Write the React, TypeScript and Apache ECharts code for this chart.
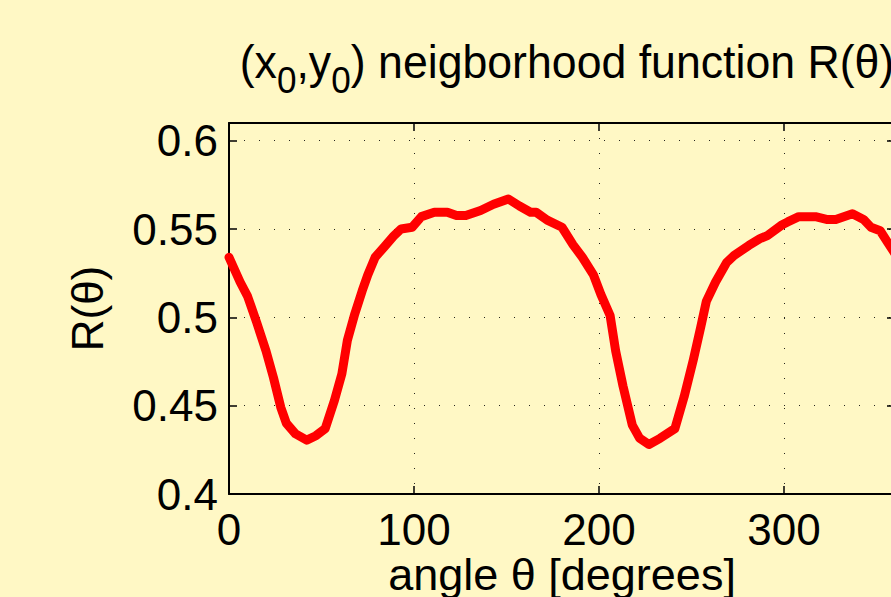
import React, { useEffect, useRef } from "react";
import * as echarts from "echarts";

// angle θ in degrees
const thetaDeg = [
  0, 6, 10, 15, 20, 24, 28, 31, 36, 42, 47, 52, 57, 61, 64, 68, 72, 75, 79, 84,
  89, 93, 99, 104, 111, 118, 123, 128, 136, 143, 151, 157, 163, 166, 172, 180,
  186, 191, 197, 201, 206, 209, 213, 218, 222, 227, 233, 241, 246, 251, 255,
  258, 263, 269, 273, 281, 287, 291, 299, 302, 308, 317, 323, 328, 337, 343,
  347, 352, 356, 360,
];
// neighborhood function R(θ)
const rValues = [
  0.534, 0.52, 0.512, 0.497, 0.481, 0.466, 0.449, 0.44, 0.434, 0.4305, 0.433,
  0.437, 0.453, 0.468, 0.487, 0.502, 0.515, 0.524, 0.534, 0.54, 0.546, 0.55,
  0.551, 0.557, 0.5595, 0.5595, 0.5576, 0.5576, 0.5605, 0.564, 0.567, 0.563,
  0.5595, 0.5595, 0.555, 0.551, 0.541, 0.534, 0.524, 0.513, 0.501, 0.481,
  0.461, 0.439, 0.4315, 0.428, 0.4315, 0.437, 0.455, 0.476, 0.4945, 0.509,
  0.52, 0.531, 0.535, 0.5407, 0.5445, 0.5463, 0.5524, 0.554, 0.557, 0.557,
  0.5554, 0.5554, 0.5586, 0.5554, 0.551, 0.549, 0.5425, 0.536,
];

const xMin = 0;
const xMax = 360;
const xStep = 100;
const yMin = 0.4;
const yMax = 0.61;
const yStep = 0.05;

const titleText = "(x{s|0},y{s|0}) neigborhood function R(θ)";
const xName = "angle θ [degrees]";
const yName = "R(θ)";

const FONT = "'Liberation Sans', Arial, Helvetica, sans-serif";
const BG = "#FFF8C5";

export default function App() {
  const ref = useRef<HTMLDivElement>(null);

  useEffect(() => {
    if (!ref.current) return;
    const chart = echarts.init(ref.current, null, { renderer: "svg" });
    const data = thetaDeg.map((t, i) => [t, rValues[i]]);
    const gridDot = { type: [1, 14] as any, color: "#000", width: 1, opacity: 0.85 };
    const axisLine = { show: true, onZero: false, lineStyle: { color: "#000", width: 2 } };
    const tick = { show: true, inside: true, length: 8, lineStyle: { color: "#000", width: 1.5 } };

    chart.setOption({
      animation: false,
      backgroundColor: BG,
      textStyle: { fontFamily: FONT },
      grid: {
        left: 229,
        top: 123,
        width: 666,
        height: 371,
        containLabel: false,
        outerBoundsMode: "none",
      },
      graphic: [
        {
          type: "text",
          x: 567,
          y: 62,
          scaleX: 0.95,
          style: {
            text: titleText,
            fontSize: 47,
            fontFamily: FONT,
            fill: "#000",
            align: "center",
            verticalAlign: "middle",
            rich: {
              s: { fontSize: 37, fontFamily: FONT, fill: "#000", padding: [36, 0, 0, 0] },
            },
          },
        },
      ],
      xAxis: [
        {
          type: "value",
          min: xMin,
          max: xMax,
          interval: xStep,
          position: "bottom",
          name: xName,
          nameLocation: "middle",
          nameGap: 58,
          nameMoveOverlap: false,
          nameTextStyle: { fontSize: 45, fontFamily: FONT, color: "#000" },
          axisLine,
          axisTick: tick,
          axisLabel: {
            fontSize: 44,
            fontFamily: FONT,
            color: "#000",
            margin: 13,
            showMaxLabel: false,
          },
          splitLine: { show: true, lineStyle: gridDot },
        },
        {
          type: "value",
          min: xMin,
          max: xMax,
          interval: xStep,
          position: "top",
          axisLine,
          axisTick: tick,
          axisLabel: { show: false },
          splitLine: { show: false },
        },
      ],
      yAxis: [
        {
          type: "value",
          min: yMin,
          max: yMax,
          interval: yStep,
          position: "left",
          name: yName,
          nameLocation: "middle",
          nameGap: 120,
          nameMoveOverlap: false,
          nameRotate: 90,
          nameTextStyle: { fontSize: 44, fontFamily: FONT, color: "#000" },
          axisLine,
          axisTick: tick,
          axisLabel: {
            fontSize: 44,
            fontFamily: FONT,
            color: "#000",
            margin: 11,
            showMaxLabel: false,
          },
          splitLine: { show: true, lineStyle: gridDot },
        },
        {
          type: "value",
          min: yMin,
          max: yMax,
          interval: yStep,
          position: "right",
          axisLine,
          axisTick: tick,
          axisLabel: { show: false },
          splitLine: { show: false },
        },
      ],
      series: [
        {
          type: "line",
          data,
          xAxisIndex: 0,
          yAxisIndex: 0,
          showSymbol: false,
          symbol: "none",
          lineStyle: { color: "#FF0000", width: 9, join: "round", cap: "round" },
          clip: true,
        },
      ],
    });

    return () => chart.dispose();
  }, []);

  return (
    <div
      ref={ref}
      style={{ position: "fixed", left: 0, top: 0, width: 891, height: 597 }}
    />
  );
}
